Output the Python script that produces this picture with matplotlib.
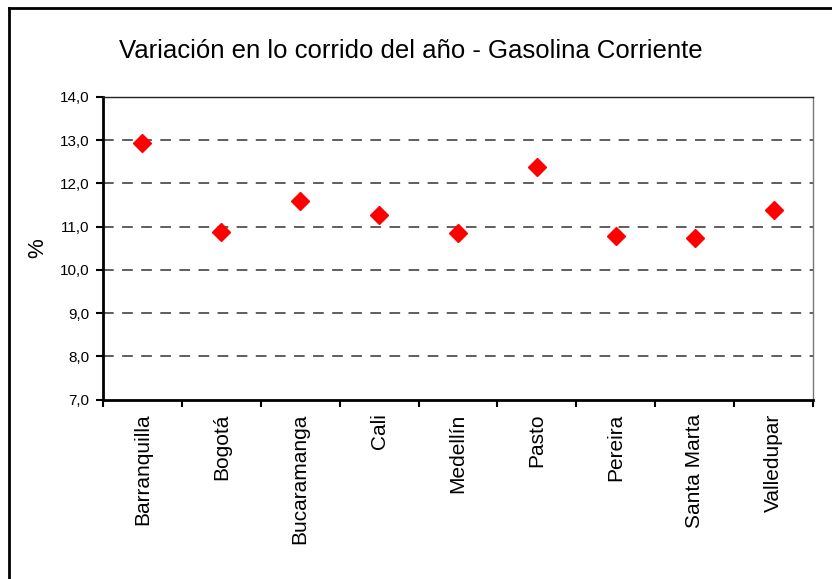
import matplotlib
matplotlib.use("Agg")
import matplotlib.pyplot as plt
from matplotlib.lines import Line2D
import numpy as np

plt.rcParams['font.family'] = ['Liberation Sans', 'DejaVu Sans']

ciudades = ['Barranquilla', 'Bogotá', 'Bucaramanga', 'Cali', 'Medellín',
            'Pasto', 'Pereira', 'Santa Marta', 'Valledupar']
variacion = [12.93, 10.88, 11.59, 11.26, 10.85, 12.37, 10.79, 10.74, 11.39]
y_ticks = [7, 8, 9, 10, 11, 12, 13, 14]
y_labels = ['7,0', '8,0', '9,0', '10,0', '11,0', '12,0', '13,0', '14,0']

fig = plt.figure(figsize=(8.32, 5.79), dpi=100)
ax = fig.add_axes([103/832, 1 - 399.5/579, 710/832, 302.5/579])

x = np.arange(len(ciudades))
ax.plot(x, variacion, linestyle='none', marker='D', markersize=9,
        color='#ff0000', markeredgecolor='#ff0000', zorder=3)

ax.set_xlim(-0.5, len(ciudades) - 0.5)
ax.set_ylim(7, 14)

# grid lines (dashed) for the inner values only
for v in y_ticks[1:-1]:
    ax.axhline(v, color='#333333', linewidth=1.1, dashes=(7, 5.5), zorder=1)

ax.set_yticks(y_ticks)
ax.set_yticklabels(y_labels, fontsize=11)
ax.tick_params(axis='y', direction='out', length=5, width=1.5, pad=5)

# ticks between categories, labels at the centre
ax.set_xticks(np.arange(len(ciudades) + 1) - 0.5)
ax.set_xticklabels([])
ax.set_xticks(x, minor=True)
ax.set_xticklabels(ciudades, minor=True, rotation=90, fontsize=15, va='top')
ax.tick_params(axis='x', which='major', direction='out', length=5, width=1.5)
ax.tick_params(axis='x', which='minor', length=0, pad=10)

for side in ['left', 'bottom']:
    ax.spines[side].set_linewidth(2)
    ax.spines[side].set_color('black')
ax.spines['top'].set_linewidth(1)
ax.spines['top'].set_color('#222222')
ax.spines['right'].set_linewidth(1)
ax.spines['right'].set_color('#777777')

ax.set_ylabel('%', fontsize=16)
ax.yaxis.set_label_coords(-0.077, 0.5)

fig.text(411/832, 1 - 51/579, 'Variación en lo corrido del año - Gasolina Corriente',
         ha='center', va='center', fontsize=18.5)

# outer frame (left and top edges)
fig.add_artist(Line2D([9/832, 9/832], [0, 1 - 8/579], color='black', linewidth=2,
                      transform=fig.transFigure))
fig.add_artist(Line2D([9/832, 1], [1 - 8/579, 1 - 8/579], color='black', linewidth=2,
                      transform=fig.transFigure))

fig.savefig('out.png', dpi=100)
